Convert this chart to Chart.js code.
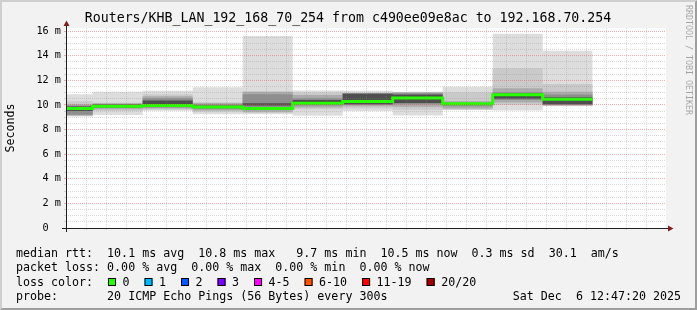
<!DOCTYPE html>
<html>
<head>
<meta charset="utf-8">
<script src="https://cdn.jsdelivr.net/npm/chart.js@4.4.1/dist/chart.umd.min.js"></script>
<style>
    html, body { margin: 0; padding: 0; background: #f2f2f2; }
    #marco { width: 697px; height: 310px; }
</style>
</head>
<body>
<div id="marco"><canvas id="grafico" width="697" height="310"></canvas></div>
<script>
// tiempos en minutos despues de las 11:00
const inicioVentana = 47 + 20 / 60;   // 11:47:20
const finVentana = 107 + 20 / 60;     // 12:47:20
const inicioIntervalo = [47 + 20 / 60, 50, 55, 60, 65, 70, 75, 80, 85, 90, 95];
const finDatos = 100;                 // 12:40

// mediana (ms) por intervalo de 5 min
const mediana = [9.71, 9.90, 9.95, 9.84, 9.70, 10.14, 10.28, 10.57, 10.10, 10.82, 10.47];

// humo: bandas de pings ordenados (ms), de la mas ancha a la mas estrecha
const pingMax = [10.86, 11.07, 11.15, 11.43, 15.60, 11.18, 11.15, 11.07, 11.48, 15.78, 14.40];
const pingMin = [ 9.06,  9.18,  9.53,  9.24,  9.25,  9.12,  9.50,  9.15,  9.58,  9.55,  9.90];
const banda2Alta = [10.30, 10.18, 10.86, 10.21, 11.10, 11.00, 10.98, 11.04, 11.02, 12.97, 11.70];
const banda2Baja = [ 9.10,  9.50,  9.60,  9.45,  9.35,  9.65,  9.72,  9.60,  9.60, 10.00,  9.93];
const banda3Alta = [10.05, 10.13, 10.70, 10.15, 11.07, 10.80, 10.96, 11.00, 10.30, 11.35, 11.07];
const banda3Baja = [ 9.15,  9.65,  9.70,  9.55,  9.45,  9.80,  9.90,  9.85,  9.70, 10.20,  9.96];
const banda4Alta = [ 9.95, 10.08, 10.54, 10.05, 10.86, 10.55, 10.94, 10.95, 10.20, 11.02, 10.85];
const banda4Baja = [ 9.20,  9.75,  9.80,  9.65,  9.58,  9.95,  9.99, 10.05,  9.90, 10.40, 10.00];
const banda5Alta = [ 9.88, 10.03, 10.35,  9.95, 10.13, 10.40, 10.90, 10.85, 10.15, 10.92, 10.62];
const banda5Baja = [ 9.50,  9.82,  9.88,  9.75,  9.95, 10.05, 10.05, 10.15, 10.00, 10.50, 10.05];

// etiquetas de los ejes
const xTicksValores = [50, 60, 70, 80, 90, 100];
const xTicksTextos = ['11:50', '12:00', '12:10', '12:20', '12:30', '12:40'];
const yTicksValores = [0, 2, 4, 6, 8, 10, 12, 14, 16];
const yTicksTextos = ['0  ', '2 m', '4 m', '6 m', '8 m', '10 m', '12 m', '14 m', '16 m'];

// leyenda
const titulo = 'Routers/KHB_LAN_192_168_70_254 from c490ee09e8ac to 192.168.70.254';
const lineaRtt = 'median rtt:  10.1 ms avg  10.8 ms max   9.7 ms min  10.5 ms now  0.3 ms sd  30.1  am/s';
const lineaPerdida = 'packet loss: 0.00 % avg  0.00 % max  0.00 % min  0.00 % now';
const lineaSonda = 'probe:       20 ICMP Echo Pings (56 Bytes) every 300s';
const fechaTexto = 'Sat Dec  6 12:47:20 2025';
const perdidaEtiquetas = ['0', '1', '2', '3', '4-5', '6-10', '11-19', '20/20'];
const perdidaColores = ['#26ff00', '#00b8ff', '#0059ff', '#7e00ff', '#ff00ff', '#ff5500', '#ff0000', '#a10000'];

const MONO = 'DejaVu Sans Mono';
const gridMenor = 'rgba(143,143,143,0.33)';
const gridMayor = 'rgba(222,79,79,0.45)';

function escalones(valores) {
    const puntos = inicioIntervalo.map((x, i) => ({ x: x, y: valores[i] }));
    puntos.push({ x: finDatos, y: valores[valores.length - 1] });
    return puntos;
}

const capas = [
    { alta: pingMax, baja: pingMin, color: '#dddddd' },
    { alta: banda2Alta, baja: banda2Baja, color: '#cacaca' },
    { alta: banda3Alta, baja: banda3Baja, color: '#ababab' },
    { alta: banda4Alta, baja: banda4Baja, color: '#8e8e8e' },
    { alta: banda5Alta, baja: banda5Baja, color: '#4e4e4e' }
];

const datasets = [{
    label: 'median',
    data: escalones(mediana),
    borderColor: '#26ff00',
    borderWidth: 3,
    stepped: true,
    fill: false,
    pointRadius: 0,
    order: 0
}];

capas.forEach((capa, k) => {
    const indiceBaja = datasets.length;
    datasets.push({
        data: escalones(capa.baja),
        borderWidth: 0,
        stepped: true,
        fill: false,
        pointRadius: 0,
        order: 10 - k
    });
    datasets.push({
        data: escalones(capa.alta),
        borderWidth: 0,
        stepped: true,
        fill: indiceBaja,
        backgroundColor: capa.color,
        pointRadius: 0,
        order: 10 - k
    });
});

const decoracion = {
    id: 'decoracion',
    beforeDraw(chart) {
        const ctx = chart.ctx;
        const w = chart.width, h = chart.height;
        const a = chart.chartArea;
        ctx.save();
        ctx.fillStyle = '#f2f2f2';
        ctx.fillRect(0, 0, w, h);
        // sombra del marco
        ctx.fillStyle = '#cfcfcf';
        ctx.beginPath();
        ctx.moveTo(0, 0); ctx.lineTo(w, 0); ctx.lineTo(w - 2, 2); ctx.lineTo(2, 2); ctx.lineTo(2, h - 2); ctx.lineTo(0, h);
        ctx.closePath(); ctx.fill();
        ctx.fillStyle = '#9e9e9e';
        ctx.beginPath();
        ctx.moveTo(0, h); ctx.lineTo(w, h); ctx.lineTo(w, 0); ctx.lineTo(w - 2, 2); ctx.lineTo(w - 2, h - 2); ctx.lineTo(2, h - 2);
        ctx.closePath(); ctx.fill();
        ctx.fillStyle = '#ffffff';
        ctx.fillRect(a.left, a.top, a.right - a.left, a.bottom - a.top);
        ctx.restore();
    },
    afterDraw(chart) {
        const ctx = chart.ctx;
        const a = chart.chartArea;
        ctx.save();

        // ejes y flechas
        ctx.strokeStyle = '#1f1f1f';
        ctx.lineWidth = 1;
        ctx.beginPath();
        ctx.moveTo(a.left - 4, a.bottom + 0.5); ctx.lineTo(a.right + 4, a.bottom + 0.5);
        ctx.moveTo(a.left + 0.5, a.bottom + 4); ctx.lineTo(a.left + 0.5, a.top - 4);
        ctx.stroke();
        ctx.fillStyle = '#801f1f';
        ctx.beginPath();
        ctx.moveTo(a.right + 2, a.bottom - 2.5); ctx.lineTo(a.right + 2, a.bottom + 3.5); ctx.lineTo(a.right + 7.5, a.bottom + 0.5);
        ctx.closePath(); ctx.fill();
        ctx.beginPath();
        ctx.moveTo(a.left - 2.5, a.top - 2); ctx.lineTo(a.left + 3.5, a.top - 2); ctx.lineTo(a.left + 0.5, a.top - 7.5);
        ctx.closePath(); ctx.fill();

        ctx.fillStyle = '#000000';
        ctx.textBaseline = 'middle';

        // titulo
        ctx.font = '13.25px "' + MONO + '"';
        ctx.textAlign = 'center';
        ctx.fillText(titulo, 348, 19);

        // etiqueta del eje Y
        ctx.font = '11.65px "' + MONO + '"';
        ctx.save();
        ctx.translate(11, 128);
        ctx.rotate(-Math.PI / 2);
        ctx.fillText('Seconds', 0, 0);
        ctx.restore();

        // marca de agua
        ctx.save();
        ctx.fillStyle = 'rgba(0,0,0,0.33)';
        ctx.font = '8.3px "' + MONO + '"';
        ctx.translate(688, 60);
        ctx.rotate(Math.PI / 2);
        ctx.fillText('RRDTOOL / TOBI OETIKER', 0, 0);
        ctx.restore();

        // leyenda
        ctx.font = '11.65px "' + MONO + '"';
        ctx.textAlign = 'left';
        ctx.fillText(lineaRtt, 16, 254);
        ctx.fillText(lineaPerdida, 16, 268);
        ctx.fillText('loss color:', 16, 282.5);
        ctx.fillText(lineaSonda, 16, 296.5);
        ctx.textAlign = 'right';
        ctx.fillText(fechaTexto, 681, 296.5);

        ctx.textAlign = 'left';
        let x = 108;
        perdidaEtiquetas.forEach((etiqueta, i) => {
            ctx.fillStyle = perdidaColores[i];
            ctx.fillRect(x, 278, 8, 8);
            ctx.strokeStyle = '#000000';
            ctx.strokeRect(x + 0.5, 278.5, 7, 7);
            ctx.fillStyle = '#000000';
            ctx.fillText(etiqueta, x + 14.5, 282.5);
            x = x + 14.5 + ctx.measureText(etiqueta).width + 15;
        });

        ctx.restore();
    }
};

const fuenteEje = { family: MONO, size: 10.2 };

new Chart(document.getElementById('grafico').getContext('2d'), {
    type: 'line',
    data: { datasets: datasets },
    plugins: [decoracion],
    options: {
        responsive: false,
        animation: false,
        events: [],
        layout: { padding: { left: 0, right: 31, top: 28, bottom: 0 } },
        plugins: {
            legend: { display: false },
            tooltip: { enabled: false },
            title: { display: false }
        },
        scales: {
            x: {
                type: 'linear',
                min: inicioVentana,
                max: finVentana,
                bounds: 'data',
                afterFit: (escala) => { escala.height = 82; },
                afterBuildTicks: (escala) => {
                    escala.ticks = escala.ticks.filter(t => t.value >= escala.min && t.value <= escala.max);
                },
                ticks: {
                    stepSize: 2,
                    includeBounds: false,
                    autoSkip: false,
                    maxRotation: 0,
                    padding: 1,
                    color: '#000000',
                    font: fuenteEje,
                    callback: (v) => {
                        const i = xTicksValores.indexOf(v);
                        return i >= 0 ? xTicksTextos[i] : '';
                    }
                },
                grid: {
                    z: 1,
                    lineWidth: 1,
                    tickLength: 2,
                    color: (c) => (c.tick && c.tick.value % 10 === 0) ? gridMayor : gridMenor,
                    tickColor: (c) => (c.tick && c.tick.value % 10 === 0) ? gridMayor : gridMenor
                },
                border: { display: false, dash: [1, 1] }
            },
            y: {
                type: 'linear',
                min: 0,
                max: 16.25,
                bounds: 'data',
                afterFit: (escala) => { escala.width = 66; },
                afterBuildTicks: (escala) => {
                    escala.ticks = escala.ticks.filter(t => t.value >= escala.min && t.value <= escala.max);
                },
                ticks: {
                    stepSize: 0.5,
                    includeBounds: false,
                    autoSkip: false,
                    padding: 3,
                    color: '#000000',
                    font: fuenteEje,
                    callback: (v) => {
                        const i = yTicksValores.indexOf(v);
                        return i >= 0 ? yTicksTextos[i] : '';
                    }
                },
                grid: {
                    z: 1,
                    lineWidth: 1,
                    tickLength: 2,
                    color: (c) => (c.tick && c.tick.value % 2 === 0) ? gridMayor : gridMenor,
                    tickColor: (c) => (c.tick && c.tick.value % 2 === 0) ? gridMayor : gridMenor
                },
                border: { display: false, dash: [1, 1] }
            }
        }
    }
});
</script>
</body>
</html>
